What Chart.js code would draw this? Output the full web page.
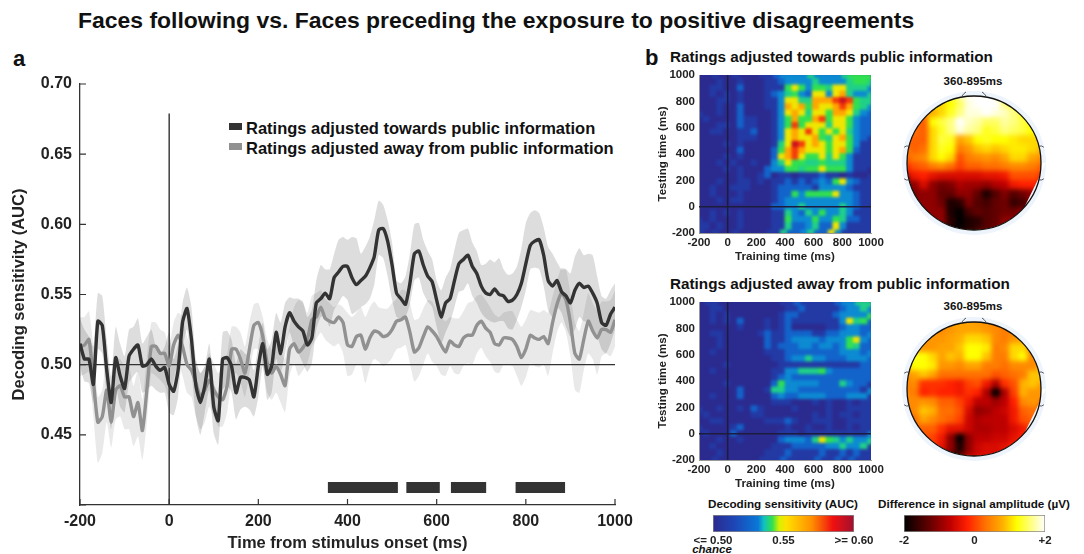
<!DOCTYPE html>
<html><head><meta charset="utf-8"><title>Decoding sensitivity</title>
<script src="https://cdn.jsdelivr.net/npm/chart.js@4"></script>
<style>
html,body{margin:0;padding:0;background:#fff;width:1084px;height:554px;overflow:hidden}
canvas{position:absolute}
.t{position:absolute;font-family:"Liberation Sans",Arial,sans-serif;font-weight:bold;color:#111;white-space:nowrap;line-height:1}
.c{transform:translateX(-50%)}
.s{position:absolute}
.w{position:absolute;overflow:hidden}
</style></head><body>
<div class="t" style="left:78px;top:9px;font-size:22.95px">Faces following vs. Faces preceding the exposure to positive disagreements</div>
<div class="t" style="left:13px;top:48px;font-size:22px">a</div>
<div class="t" style="left:645px;top:47px;font-size:22px">b</div>
<div class="t" style="left:670px;top:49px;font-size:15.25px">Ratings adjusted towards public information</div>
<div class="t" style="left:670px;top:276px;font-size:15.25px">Ratings adjusted away from public information</div>
<div class="s" style="left:229px;top:123px;width:13px;height:7px;background:#333"></div>
<div class="t" style="left:246px;top:120px;font-size:16.5px">Ratings adjusted towards public information</div>
<div class="s" style="left:229px;top:143px;width:13px;height:7px;background:#919191"></div>
<div class="t" style="left:246px;top:140px;font-size:16.5px">Ratings adjusted away from public information</div>
<div class="t c" style="left:973px;top:76px;font-size:11.5px">360-895ms</div>
<div class="t c" style="left:973px;top:301px;font-size:11.5px">360-895ms</div>
<div class="t c" style="left:783px;top:498px;font-size:11.7px">Decoding sensitivity (AUC)</div>
<div class="t c" style="left:974px;top:498px;font-size:11.7px">Difference in signal amplitude (µV)</div>
<div class="t c" style="left:712px;top:544px;font-size:11.5px;font-style:italic">chance</div>
<canvas id="main"></canvas>
<div class="w" id="h1w"><canvas id="h1m"></canvas></div><canvas id="h1"></canvas>
<div class="w" id="h2w"><canvas id="h2m"></canvas></div><canvas id="h2"></canvas>
<div class="w" id="t1w"><canvas id="t1m"></canvas></div><canvas id="t1"></canvas>
<div class="w" id="t2w"><canvas id="t2m"></canvas></div><canvas id="t2"></canvas>
<canvas id="b1"></canvas><canvas id="b2"></canvas>
<script>
// ---- panel a: time axis and series (10 ms steps from -200 to 1000 ms) ----
const timeTicks=[-200,0,200,400,600,800,1000];
const aucTicks=[0.40,0.45,0.50,0.55,0.60,0.65,0.70];
const towardsMean=[.515,.504,.504,.486,.531,.528,.496,.473,.505,.492,.483,.506,.511,.514,.499,.500,.504,.499,.496,.498,.486,.481,.496,.530,.540,.518,.485,.473,.485,.504,.470,.460,.504,.505,.499,.480,.491,.491,.489,.477,.499,.515,.493,.499,.523,.508,.527,.537,.531,.527,.524,.514,.519,.544,.547,.551,.547,.562,.566,.570,.570,.562,.557,.560,.563,.569,.577,.596,.597,.588,.571,.551,.547,.543,.558,.579,.581,.571,.563,.559,.546,.534,.544,.547,.560,.572,.575,.578,.570,.565,.556,.551,.550,.554,.550,.549,.545,.546,.550,.558,.572,.585,.588,.589,.578,.560,.556,.560,.552,.549,.544,.553,.558,.555,.556,.551,.544,.530,.528,.536,.541];
const towardsUpper=[.533,.525,.520,.513,.551,.549,.518,.492,.527,.515,.506,.525,.527,.533,.515,.520,.525,.513,.508,.513,.523,.504,.515,.544,.555,.541,.504,.494,.499,.515,.487,.480,.523,.524,.518,.501,.511,.508,.506,.496,.513,.530,.511,.518,.537,.530,.544,.548,.547,.547,.545,.534,.539,.560,.571,.568,.568,.579,.589,.591,.589,.591,.590,.579,.584,.591,.603,.617,.614,.603,.587,.560,.558,.563,.579,.600,.601,.589,.581,.575,.560,.553,.562,.568,.582,.594,.596,.597,.587,.581,.571,.572,.575,.573,.576,.568,.564,.565,.570,.583,.601,.608,.610,.608,.598,.584,.579,.573,.568,.568,.565,.577,.583,.578,.579,.578,.563,.549,.547,.553,.558];
const towardsLower=[.499,.488,.487,.473,.511,.508,.477,.454,.485,.470,.466,.487,.492,.495,.480,.482,.485,.482,.480,.480,.466,.464,.477,.511,.525,.496,.463,.450,.466,.482,.451,.443,.482,.485,.480,.461,.468,.470,.468,.463,.477,.499,.475,.480,.504,.494,.508,.523,.513,.508,.501,.495,.501,.525,.534,.534,.527,.539,.544,.549,.546,.536,.538,.541,.543,.547,.557,.578,.576,.563,.546,.534,.533,.534,.543,.560,.562,.551,.545,.541,.527,.515,.523,.530,.541,.552,.553,.558,.549,.544,.537,.533,.531,.530,.531,.531,.526,.525,.532,.541,.553,.568,.569,.568,.556,.539,.534,.541,.537,.527,.520,.525,.534,.531,.530,.525,.520,.511,.508,.515,.525];
const awayMean=[.513,.514,.518,.489,.459,.463,.482,.459,.482,.485,.477,.477,.463,.473,.453,.482,.513,.513,.508,.508,.499,.514,.521,.513,.500,.496,.487,.477,.482,.489,.482,.477,.475,.485,.511,.511,.504,.494,.511,.528,.530,.520,.501,.494,.499,.493,.485,.511,.515,.509,.512,.518,.532,.534,.541,.533,.531,.530,.534,.530,.514,.513,.520,.521,.511,.519,.524,.523,.520,.521,.525,.531,.532,.534,.523,.509,.512,.520,.527,.524,.520,.514,.509,.517,.514,.513,.519,.521,.521,.528,.531,.526,.523,.515,.514,.519,.519,.518,.513,.505,.511,.521,.519,.518,.520,.515,.530,.543,.551,.546,.530,.508,.504,.518,.531,.524,.519,.525,.525,.523,.532];
const awayUpper=[.534,.534,.538,.513,.477,.482,.506,.480,.504,.504,.499,.499,.485,.496,.475,.506,.530,.530,.525,.523,.513,.530,.537,.534,.520,.511,.501,.494,.499,.508,.501,.494,.499,.508,.527,.527,.523,.513,.530,.543,.544,.534,.518,.511,.518,.511,.504,.527,.541,.546,.544,.537,.549,.551,.553,.547,.544,.541,.543,.541,.537,.534,.537,.541,.534,.541,.545,.541,.540,.540,.544,.547,.553,.553,.544,.532,.533,.540,.546,.545,.539,.534,.531,.534,.533,.533,.538,.544,.545,.549,.550,.546,.541,.536,.534,.537,.538,.538,.532,.527,.532,.539,.538,.537,.539,.537,.549,.560,.569,.568,.551,.530,.524,.537,.551,.544,.539,.545,.545,.546,.553];
const awayLower=[.492,.493,.495,.463,.430,.437,.459,.441,.461,.463,.454,.454,.442,.449,.432,.459,.494,.492,.489,.485,.475,.489,.501,.492,.480,.477,.463,.454,.459,.470,.463,.456,.456,.466,.489,.494,.487,.477,.494,.511,.511,.499,.480,.475,.480,.473,.466,.492,.501,.492,.496,.501,.513,.518,.523,.518,.515,.513,.515,.508,.492,.493,.500,.500,.487,.498,.504,.502,.499,.501,.505,.511,.512,.514,.501,.488,.492,.500,.508,.502,.499,.493,.492,.499,.494,.493,.499,.501,.500,.508,.512,.506,.502,.495,.494,.500,.500,.499,.492,.485,.491,.501,.499,.498,.500,.492,.508,.523,.530,.523,.506,.482,.480,.496,.508,.504,.493,.506,.508,.506,.513];
const timeMs=[-200,-190,-180,-170,-160,-150,-140,-130,-120,-110,-100,-90,-80,-70,-60,-50,-40,-30,-20,-10,0,10,20,30,40,50,60,70,80,90,100,110,120,130,140,150,160,170,180,190,200,210,220,230,240,250,260,270,280,290,300,310,320,330,340,350,360,370,380,390,400,410,420,430,440,450,460,470,480,490,500,510,520,530,540,550,560,570,580,590,600,610,620,630,640,650,660,670,680,690,700,710,720,730,740,750,760,770,780,790,800,810,820,830,840,850,860,870,880,890,900,910,920,930,940,950,960,970,980,990,1000];
const sigStart=[356,532,632,777];
const sigEnd=[513,607,711,888];
const sigLevel=0.4125;
const chanceLevel=0.50;
const onsetTop=0.679;

// ---- panel b: temporal generalisation matrices (top row 1000 ms), cells index sensLevels ----
const sensLevels=[.50,.508,.525,.533,.539,.542,.55,.565,.58,.592];
const genTimes=[-175,-125,-75,-25,25,75,125,175,225,275,325,375,425,475,525,575,625,675,725,775,825,875,925,975];
const genTicks=[-200,0,200,400,600,800,1000];
const genTowards=[
[0,0,1,0,0,1,0,0,0,1,1,2,3,3,3,3,4,3,3,3,3,4,5,5],
[0,1,1,0,0,2,0,0,0,1,1,1,5,6,5,3,5,5,4,6,6,4,4,4],
[0,1,0,1,0,1,0,0,0,1,2,3,4,5,3,2,6,6,3,6,7,4,3,3],
[0,0,1,1,0,1,0,0,0,1,1,3,6,6,4,4,7,7,7,8,9,8,5,4],
[0,0,1,0,0,2,0,0,0,1,1,3,7,6,7,5,7,6,6,7,8,7,5,4],
[0,0,1,0,0,2,0,0,0,0,1,3,6,7,6,4,6,6,5,7,7,6,4,3],
[1,0,0,0,0,2,1,1,0,0,1,3,5,7,5,5,7,8,5,6,6,5,3,2],
[0,0,1,1,0,2,1,1,0,0,1,3,5,8,5,6,6,6,4,6,6,5,3,2],
[0,1,1,0,0,1,1,2,0,0,1,3,6,7,6,8,6,5,6,5,6,4,3,2],
[0,0,0,0,0,1,1,1,0,0,1,3,6,7,6,6,7,5,4,6,7,5,3,2],
[0,0,0,1,0,1,0,0,0,0,1,4,6,9,8,6,7,6,5,6,6,5,3,1],
[0,0,0,0,0,2,0,0,0,0,2,5,7,8,7,6,6,6,5,6,7,5,2,1],
[0,0,0,1,0,1,0,0,0,0,2,6,7,8,6,5,5,6,4,6,5,3,1,1],
[0,0,1,0,1,0,0,1,0,0,3,4,6,5,5,4,4,5,4,4,4,3,1,1],
[0,0,0,1,0,1,0,0,0,2,3,3,5,5,4,5,5,6,5,5,5,3,1,1],
[0,0,0,0,0,1,0,0,1,2,0,1,1,0,1,1,1,2,1,1,0,1,0,0],
[0,0,1,0,0,1,1,0,1,0,1,1,2,1,2,1,2,3,2,5,6,3,2,1],
[0,1,0,0,1,1,1,0,0,0,1,2,2,2,2,2,1,3,3,3,3,2,1,1],
[0,1,0,0,0,1,0,0,0,0,1,2,2,5,3,5,5,5,5,6,3,3,2,1],
[0,0,1,0,1,1,0,0,0,0,1,2,3,3,3,3,3,3,3,3,3,3,2,1],
[0,0,0,0,0,0,0,0,0,0,2,2,3,3,4,3,3,3,3,3,4,3,2,1],
[0,1,0,1,0,1,0,0,0,0,1,1,4,3,2,4,3,5,3,3,4,3,1,1],
[0,1,0,0,0,1,0,0,0,0,1,1,5,3,3,3,5,3,3,5,4,2,2,1],
[1,0,1,0,0,1,0,0,0,0,1,1,4,2,2,3,4,2,2,6,3,1,1,1]];
const genAway=[
[0,1,1,0,0,0,0,0,0,0,0,0,1,1,2,1,1,1,1,1,2,3,3,4],
[0,1,0,1,0,0,0,0,0,0,0,1,2,2,1,1,1,1,1,2,3,3,3,3],
[0,1,0,1,0,2,0,0,0,1,0,1,2,1,1,1,1,1,1,1,3,6,4,5],
[0,0,0,0,0,1,0,0,0,1,0,1,2,0,0,0,0,0,1,1,2,3,3,2],
[0,1,1,0,0,0,0,0,1,2,1,1,2,2,2,2,1,1,2,2,3,3,3,2],
[0,0,1,0,0,0,0,0,0,2,1,1,2,3,3,3,3,2,3,3,3,5,6,3],
[0,0,1,0,0,0,0,0,0,2,1,2,2,2,3,3,2,3,3,2,3,5,4,2],
[0,1,0,0,0,0,0,0,0,1,1,1,2,2,2,2,2,2,2,2,3,3,3,2],
[0,0,0,0,0,0,0,0,0,0,1,1,2,3,3,4,3,3,2,2,2,3,3,3],
[0,0,0,1,0,0,0,0,0,0,0,1,1,1,1,1,1,1,1,1,1,1,1,2],
[0,1,0,0,0,0,0,0,0,0,1,1,3,3,4,4,4,5,3,2,2,2,2,2],
[0,0,0,0,0,0,0,0,0,0,1,2,3,2,2,2,2,2,2,2,2,2,2,2],
[0,0,0,1,0,0,0,0,0,0,2,5,3,3,3,3,3,2,2,2,4,3,2,2],
[0,0,0,0,0,2,0,0,0,1,4,4,3,3,2,2,2,2,2,2,2,2,2,1],
[0,1,0,0,0,2,0,0,0,0,2,3,2,2,3,3,3,3,2,2,2,3,3,3],
[0,0,0,0,0,0,0,0,0,0,1,1,1,0,0,0,1,0,1,0,0,1,0,1],
[0,0,1,0,0,1,0,2,1,0,0,0,0,1,0,0,0,0,1,0,0,1,1,1],
[1,0,0,0,0,0,0,1,1,0,0,0,0,0,0,0,1,0,1,0,1,1,0,1],
[0,1,1,0,0,0,0,0,0,1,1,1,2,1,0,0,1,1,1,0,0,1,1,1],
[0,0,0,0,1,2,0,0,0,0,0,0,1,0,0,1,0,0,1,0,0,1,0,1],
[1,0,0,0,2,0,0,0,0,0,0,1,1,1,0,1,1,1,1,1,1,1,1,1],
[0,0,1,0,0,1,0,0,0,0,0,2,3,3,3,2,4,6,5,4,3,4,3,3],
[0,1,0,0,0,0,0,0,0,0,1,1,1,2,2,2,2,2,3,3,4,3,3,4],
[0,0,1,0,0,0,0,0,0,1,1,1,2,1,1,1,1,2,1,1,2,1,2,1]];

// ---- panel b: scalp amplitude maps, microvolts, top row = front of head ----
const scalpPos=[-.93,-.79,-.64,-.5,-.36,-.21,-.07,.07,.21,.36,.5,.64,.79,.93];
const scalpTowards=[
[1,1,1,1,1.2,1.5,1.9,2,2,2,1.6,1.3,1,1],
[.6,.6,.8,1,1.3,1.6,1.9,1.9,2,1.9,1.8,1.6,1.3,1],
[.2,.2,1.2,1.4,1.6,2,1.8,1.7,1.5,1.5,1.7,1.6,1.4,1.2],
[.3,.2,1,1.3,1.6,1.9,1.7,1.6,1.3,1.4,1.6,1.5,1.4,1.2],
[.2,.2,1,1.4,1.3,.7,.9,1.2,1.3,1.2,1.2,1.1,1,1],
[.2,.3,1,1.3,1.2,.4,.6,.9,1,.9,1,1.1,1.1,1],
[.4,.5,1,1.2,1,.1,.4,.5,.6,.5,.7,1,1,.7],
[.1,.2,.4,.5,.3,0,.2,.2,.3,.3,.4,.5,.5,.4],
[-.3,-.2,-.4,-.5,-.5,-.5,-.5,-.5,-.4,-.4,-.3,.1,.1,.1],
[-1,-.5,-1,-1.2,-1.1,-.8,-.9,-.9,-1,-.8,-.7,-.3,-.2,-.2],
[-1.1,-1,-1,-1.3,-1.3,-1,-1,-1.3,-1.8,-1.4,-1.1,-1.4,-1.2,-1],
[-1,-1,-1,-1.2,-1.8,-1.7,-1.1,-1.4,-1.5,-1.3,-1.2,-1.6,-1.5,-1],
[-1,-1,-1,-1,-1.8,-2,-1.5,-1.3,-1.4,-1.3,-1.2,-1.2,-1,-1],
[-1,-1,-1,-1,-1.7,-2,-1.8,-1.7,-1.4,-1.3,-1,-1,-1,-1]];
const scalpAway=[
[.5,.5,.5,.5,.6,.7,.7,.7,.6,.5,.4,.4,.4,.4],
[.6,.6,.6,.6,.7,.8,1,1,.9,.5,.4,.6,.7,.5],
[.7,.6,.6,.7,.7,.9,1.2,1.2,1.1,.4,.5,1,1,.5],
[1.3,1.2,1,.7,.9,.8,1.2,1.2,.9,.4,.4,1,1.2,.5],
[1.2,1.2,1.1,.6,.6,.5,.7,.7,.4,.4,.3,.5,.5,.5],
[.7,.9,.7,.3,.3,.3,.3,.3,.3,.1,.2,.3,.4,.9],
[.5,-.1,-.1,-.1,-.2,-.3,0,.1,-.3,-.8,-.1,.1,.8,.9],
[.4,-.2,-.1,-.2,-.2,-.3,-.1,-.2,-.8,-2,-.8,0,.8,.6],
[.5,.6,.5,.2,.2,0,-.3,-.7,-.7,-.9,-.7,-.2,.5,.6],
[.5,.9,.8,.3,.3,.1,-.5,-1,-.9,-.7,-.6,-.3,.2,.3],
[.3,.7,.5,.3,.2,0,-.6,-.8,-.7,-.7,-.7,-.3,.1,.2],
[.2,.2,.2,-.1,-.4,-.4,-.6,-.8,-.8,-.7,-.7,-.5,-.3,.1],
[.1,.1,0,-.3,-1,-2,-1,-.7,-.7,-.6,-.6,-.4,-.2,0],
[.1,.1,0,-.4,-1,-1.8,-1,-.6,-.5,-.5,-.4,-.2,-.1,0]];
const sensBarTicks=[0.50,0.55,0.60];
const sensBarLabels=['<= 0.50','0.55','>= 0.60'];
const ampBarTicks=[-2,0,2];
const ampBarLabels=['-2','0','+2'];

// ---- styling ----
const FONT='"Liberation Sans",Arial,sans-serif';
const INK='#222';
const jetStops=[[0,'#2b2a8f'],[.16,'#1c48b8'],[.32,'#0a78d8'],[.36,'#10c0c0'],[.42,'#30e050'],[.47,'#d8f000'],[.52,'#ffe000'],[.7,'#ff9000'],[.85,'#f01010'],[1,'#a01030']];
const hotStops=[[0,'#000000'],[.2,'#700000'],[.33,'#c00000'],[.45,'#ff2000'],[.575,'#ff7000'],[.7,'#ffb000'],[.8,'#ffff00'],[.9,'#ffff80'],[1,'#ffffff']];
function hex(c){return [1,3,5].map(i=>parseInt(c.substr(i,2),16));}
function mapColor(stops,p){p=Math.max(0,Math.min(1,p));
  for(let i=1;i<stops.length;i++){if(p<=stops[i][0]){const [a,ca]=stops[i-1],[b,cb]=stops[i],k=(p-a)/(b-a),A=hex(ca),B=hex(cb);
    return 'rgb('+A.map((v,j)=>Math.round(v+(B[j]-v)*k)).join(',')+')';}}
  return stops[stops.length-1][1];}
const baseOpts=()=>({responsive:false,animation:false,maintainAspectRatio:false,devicePixelRatio:1,plugins:{legend:{display:false},tooltip:{enabled:false}}});
function sizeCanvas(el,r){el.style.left=r[0]+'px';el.style.top=r[1]+'px';el.style.width=r[2]+'px';el.style.height=r[3]+'px';el.width=r[2];el.height=r[3];}
// axes chart: rect = canvas x,y,w,h ; area = plot left,top,right,bottom
function make(id,rect,area,cfg){
  const el=document.getElementById(id);sizeCanvas(el,rect);
  cfg.options=Object.assign(baseOpts(),{layout:{padding:{left:0,top:area[1]-rect[1],right:rect[0]+rect[2]-area[2],bottom:0}}},cfg.options);
  const s=cfg.options.scales;
  s.x.afterFit=sc=>{sc.height=rect[1]+rect[3]-area[3];};
  s.y.afterFit=sc=>{sc.width=area[0]-rect[0];};
  return new Chart(el,cfg);
}
// field layer: a blurred canvas of cells inside a clipping wrapper, aligned with the axes chart
function field(id,area,m,range,pts,cols,r,rim,blur,bg,round){
  const w=document.getElementById(id+'w'),W=area[2]-area[0],H=area[3]-area[1];
  Object.assign(w.style,{left:area[0]+'px',top:area[1]+'px',width:W+'px',height:H+'px',background:bg,borderRadius:round?'50%':'0'});
  const el=document.getElementById(id+'m');sizeCanvas(el,[-m,-m,W+2*m,H+2*m]);el.style.filter='blur('+blur+'px)';
  const ds=(rad,o)=>({data:pts,pointStyle:'rect',pointRadius:rad,pointBorderWidth:0,pointBackgroundColor:cols,clip:false,order:o});
  new Chart(el,{type:'scatter',data:{datasets:[ds(r,1),ds(rim,2)]},options:Object.assign(baseOpts(),{layout:{padding:m},
    scales:{x:{type:'linear',min:range[0],max:range[1],display:false},y:{type:'linear',min:range[0],max:range[1],display:false}}})});
}
function tickSet(arr){return sc=>{sc.ticks=arr.map(v=>({value:v}));};}

// ---- panel a ----
const xy=a=>timeMs.map((t,i)=>({x:t,y:a[i]}));
const band=(d,c,o,fill)=>({type:'line',data:xy(d),borderWidth:0,pointRadius:0,backgroundColor:c,fill:fill?'+1':false,order:o,tension:.2});
const meanLine=(d,c,o)=>({type:'line',data:xy(d),borderColor:c,borderWidth:3.4,pointRadius:0,fill:false,order:o,tension:.2,borderJoinStyle:'round'});
const sigData=[];sigStart.forEach((s,i)=>{sigData.push({x:s,y:sigLevel},{x:sigEnd[i],y:sigLevel},{x:sigEnd[i],y:null});});
const inwardTicks={id:'inwardTicks',afterDraw(c){const {ctx,scales:{x,y},chartArea:a}=c;ctx.save();ctx.strokeStyle='#333';ctx.lineWidth=1.2;ctx.beginPath();
  aucTicks.forEach(v=>{const p=y.getPixelForValue(v);ctx.moveTo(a.left,p);ctx.lineTo(a.left+6,p);});
  timeTicks.forEach(v=>{const p=x.getPixelForValue(v);ctx.moveTo(p,a.bottom);ctx.lineTo(p,a.bottom-6);});
  ctx.stroke();ctx.restore();}};
make('main',[10,55,650,498],[80,84,615,505],{type:'line',plugins:[inwardTicks],
 data:{datasets:[
  band(awayUpper,'rgba(0,0,0,.085)',7,true),band(awayLower,'transparent',7,false),
  band(towardsUpper,'rgba(0,0,0,.135)',6,true),band(towardsLower,'transparent',6,false),
  {type:'line',data:[{x:-200,y:chanceLevel},{x:1000,y:chanceLevel}],borderColor:'#333',borderWidth:1.3,pointRadius:0,order:5},
  {type:'line',data:[{x:0,y:.40},{x:0,y:onsetTop}],borderColor:'#222',borderWidth:1.3,pointRadius:0,order:4},
  meanLine(awayMean,'#919191',3),meanLine(towardsMean,'#333333',2),
  {type:'line',data:sigData,borderColor:'#333',borderWidth:11,pointRadius:0,borderCapStyle:'butt',spanGaps:false,order:1}
 ]},
 options:{scales:{
  x:{type:'linear',min:-200,max:1000,afterBuildTicks:tickSet(timeTicks),
     grid:{drawOnChartArea:false,drawTicks:false},border:{color:'#333',width:1.3},
     ticks:{padding:7,color:INK,maxRotation:0,autoSkip:false,font:{family:FONT,weight:'bold',size:16},callback:v=>String(v)},
     title:{display:true,text:'Time from stimulus onset (ms)',color:INK,padding:0,font:{family:FONT,weight:'bold',size:16.5}}},
  y:{type:'linear',min:.40,max:.70,afterBuildTicks:tickSet(aucTicks),
     grid:{drawOnChartArea:false,drawTicks:false},border:{color:'#333',width:1.3},
     ticks:{padding:8,color:INK,font:{family:FONT,weight:'bold',size:16},callback:v=>v<.41?'':v.toFixed(2)},
     title:{display:true,text:'Decoding sensitivity (AUC)',color:INK,padding:0,font:{family:FONT,weight:'bold',size:16.5}}}}}
});

// ---- generalisation matrices ----
function heat(id,rect,area,grid){
 const pts=[],cols=[];
 grid.forEach((row,r)=>row.forEach((lv,c)=>{pts.push({x:genTimes[c],y:genTimes[23-r]});cols.push(mapColor(jetStops,(sensLevels[lv]-.5)/.1));}));
 field(id,area,8,[-200,1000],pts,cols,5.4,12,1.5,'#2b2a8f',false);
 make(id,rect,area,{type:'scatter',data:{datasets:[
  {type:'line',data:[{x:0,y:-200},{x:0,y:1000}],borderColor:'#1c1c3c',borderWidth:1.5,pointRadius:0},
  {type:'line',data:[{x:-200,y:0},{x:1000,y:0}],borderColor:'#1c1c3c',borderWidth:1.5,pointRadius:0}
 ]},options:{scales:{
  x:{type:'linear',min:-200,max:1000,afterBuildTicks:tickSet(genTicks),grid:{drawOnChartArea:false,drawTicks:false},border:{color:'#999',width:1},
     ticks:{padding:3,color:INK,maxRotation:0,autoSkip:false,font:{family:FONT,weight:'bold',size:11.5},callback:v=>String(v)},
     title:{display:true,text:'Training time (ms)',color:INK,padding:0,font:{family:FONT,weight:'bold',size:11.6}}},
  y:{type:'linear',min:-200,max:1000,afterBuildTicks:tickSet(genTicks),grid:{drawOnChartArea:false,drawTicks:false},border:{color:'#999',width:1},
     ticks:{padding:4,color:INK,font:{family:FONT,weight:'bold',size:11.5},callback:v=>String(v)},
     title:{display:true,text:'Testing time (ms)',color:INK,padding:0,font:{family:FONT,weight:'bold',size:11.6}}}}}
 });
}
heat('h1',[656,55,245,209],[699,75,871,233],genTowards);
heat('h2',[656,282,245,209],[699,302,871,460],genAway);

// ---- scalp maps ----
function scalp(id,rect,area,grid){
 const pts=[],cols=[];
 grid.forEach((row,r)=>row.forEach((v,c)=>{pts.push({x:scalpPos[c],y:scalpPos[13-r]});cols.push(mapColor(hotStops,(v+2)/4));}));
 field(id,area,12,[-1,1],pts,cols,7.6,16,2.5,'#ff8000',true);
 const head={id:'head',afterDraw(ch){const {ctx,scales:{x,y}}=ch;const cx=x.getPixelForValue(0),cy=y.getPixelForValue(0),R=x.getPixelForValue(1)-cx;
   ctx.save();ctx.fillStyle='#eef4fb';ctx.beginPath();ctx.arc(cx,cy,R+5,0,7);ctx.arc(cx,cy,R,0,7,true);ctx.fill();
   ctx.strokeStyle='#111';ctx.lineWidth=1.3;ctx.beginPath();ctx.arc(cx,cy,R,0,7);ctx.stroke();
   ctx.lineWidth=.8;ctx.strokeStyle='#333';ctx.beginPath();
   ctx.moveTo(cx-12,cy-R);ctx.quadraticCurveTo(cx-10,cy-R-3,cx-8,cy-R-4);ctx.moveTo(cx+12,cy-R);ctx.quadraticCurveTo(cx+10,cy-R-3,cx+8,cy-R-4);
   [-.25,.25].forEach(s=>{const yy=cy+s*R;[-1,1].forEach(d=>{const xx=cx+d*Math.sqrt(R*R-s*s*R*R);ctx.moveTo(xx,yy);ctx.quadraticCurveTo(xx+d*3,yy+(s<0?-1:1),xx+d*5,yy+(s<0?1:-1));});});
   ctx.stroke();ctx.restore();}};
 const el=document.getElementById(id);sizeCanvas(el,rect);
 new Chart(el,{type:'scatter',plugins:[head],data:{datasets:[{data:[]}]},options:Object.assign(baseOpts(),{
   layout:{padding:{left:area[0]-rect[0],top:area[1]-rect[1],right:rect[0]+rect[2]-area[2],bottom:rect[1]+rect[3]-area[3]}},
   scales:{x:{type:'linear',min:-1,max:1,display:false},y:{type:'linear',min:-1,max:1,display:false}}})});
}
scalp('t1',[895,85,160,160],[907,96,1041,230],scalpTowards);
scalp('t2',[895,311,160,160],[907,322,1041,456],scalpAway);

// ---- colour bars ----
function cbar(id,rect,area,range,ticks,labels,stops){
 make(id,rect,area,{type:'bar',data:{labels:[''],datasets:[{data:[[range[0],range[1]]],barPercentage:1,categoryPercentage:1,borderWidth:1,borderColor:'#888',borderSkipped:false,
  backgroundColor(c){const a=c.chart.chartArea;if(!a)return stops[0][1];const g=c.chart.ctx.createLinearGradient(a.left,0,a.right,0);stops.forEach(s=>g.addColorStop(s[0],s[1]));return g;}}]},
 options:{indexAxis:'y',scales:{
  x:{type:'linear',min:range[0],max:range[1],afterBuildTicks:tickSet(ticks),grid:{drawOnChartArea:false,drawTicks:false},border:{display:false},
     ticks:{padding:2,color:INK,maxRotation:0,autoSkip:false,font:{family:FONT,weight:'bold',size:11.5},callback:v=>labels[ticks.findIndex(t=>Math.abs(t-v)<1e-6)]}},
  y:{display:false}}}});
}
cbar('b1',[670,505,230,42],[713,515,854,532],[.50,.60],sensBarTicks,sensBarLabels,jetStops);
cbar('b2',[860,505,224,42],[904,515,1045,532],[-2,2],ampBarTicks,ampBarLabels,hotStops);
</script></body></html>
